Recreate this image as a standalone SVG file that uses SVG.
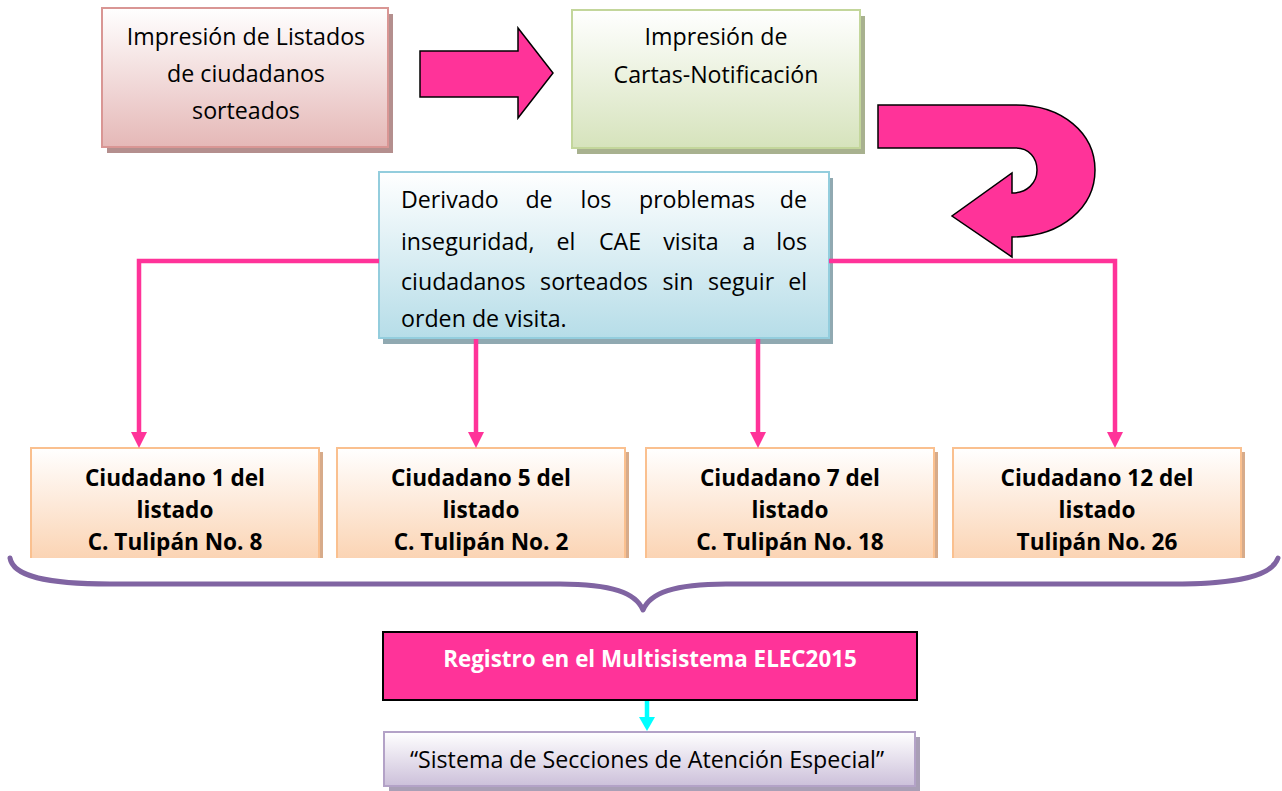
<svg xmlns="http://www.w3.org/2000/svg" width="1282" height="791" viewBox="0 0 1282 791">
<defs>
<linearGradient id="gPink" x1="0" y1="0" x2="0" y2="1"><stop offset="0" stop-color="#ffffff"/><stop offset="1" stop-color="#e5b8b7"/></linearGradient>
<linearGradient id="gGreen" x1="0" y1="0" x2="0" y2="1"><stop offset="0" stop-color="#ffffff"/><stop offset="1" stop-color="#d6e3bc"/></linearGradient>
<linearGradient id="gBlue" x1="0" y1="0" x2="0" y2="1"><stop offset="0" stop-color="#ffffff"/><stop offset="1" stop-color="#b6dde8"/></linearGradient>
<linearGradient id="gOrange" x1="0" y1="0" x2="0" y2="1"><stop offset="0" stop-color="#ffffff"/><stop offset="1" stop-color="#fbd4b4"/></linearGradient>
<linearGradient id="gPurple" x1="0" y1="0" x2="0" y2="1"><stop offset="0" stop-color="#ffffff"/><stop offset="1" stop-color="#ccc0da"/></linearGradient>
<marker id="mPink" viewBox="0 0 18 16" refX="0" refY="8" markerWidth="18" markerHeight="16" markerUnits="userSpaceOnUse" orient="auto"><path d="M0,0 L16,8 L0,16 z" fill="#ff3399"/></marker>
<marker id="mCyan" viewBox="0 0 14 16" refX="0" refY="8" markerWidth="14" markerHeight="16" markerUnits="userSpaceOnUse" orient="auto"><path d="M0,0 L14,8 L0,16 z" fill="#00ffff"/></marker>
<style>
text{font-family:"Open Sans","Noto Sans","Liberation Sans",sans-serif;fill:#000}
.r{font-size:23.2px}
.b{font-size:22.6px;font-weight:bold}
.c{text-anchor:middle}
.e{text-anchor:end}
.m{text-anchor:middle}
.w{fill:#ffffff;font-size:22.4px;font-weight:bold}
.link{fill:none;stroke:#ff3399;stroke-width:4.5}
.blk{fill:#ff3399;stroke:#000;stroke-width:1.5;stroke-linejoin:miter}
.tb{fill:url(#gOrange)}
.tbb{fill:none;stroke:#fac08f;stroke-width:2}
.tbs{fill:#d7ab8a}
</style>
</defs>
<rect width="1282" height="791" fill="#ffffff"/>

<g id="node-listados">
<rect x="107" y="14" width="286" height="139" fill="#b48f8e"/>
<rect x="102" y="8" width="286" height="139" fill="url(#gPink)" stroke="#d99694" stroke-width="2"/>
<text class="r c" x="246" y="45">Impresión de Listados</text>
<text class="r c" x="246" y="82">de ciudadanos</text>
<text class="r c" x="246" y="119">sorteados</text>
</g>

<g id="node-cartas">
<rect x="577" y="16" width="288" height="138" fill="#a8b18f"/>
<rect x="572" y="10" width="288" height="138" fill="url(#gGreen)" stroke="#c3d69b" stroke-width="2"/>
<text class="r c" x="716" y="45">Impresión de</text>
<text class="r c" x="716" y="83">Cartas-Notificación</text>
</g>

<g id="node-derivado">
<rect x="383" y="178" width="450" height="166" fill="#90a9b1"/>
<rect x="379" y="172" width="450" height="166" fill="url(#gBlue)" stroke="#93cddd" stroke-width="2"/>
<text class="r" y="208"><tspan x="401">Derivado</tspan><tspan class="m" x="539">de</tspan><tspan class="m" x="596">los</tspan><tspan class="m" x="697">problemas</tspan><tspan class="e" x="807">de</tspan></text>
<text class="r" y="250"><tspan x="401">inseguridad,</tspan><tspan class="m" x="566">el</tspan><tspan class="m" x="620">CAE</tspan><tspan class="m" x="691">visita</tspan><tspan class="m" x="749">a</tspan><tspan class="e" x="807">los</tspan></text>
<text class="r" y="290"><tspan x="401">ciudadanos</tspan><tspan class="m" x="594">sorteados</tspan><tspan class="m" x="678">sin</tspan><tspan class="m" x="741">seguir</tspan><tspan class="e" x="807">el</tspan></text>
<text class="r" x="401" y="327">orden de visita.</text>
</g>

<g id="node-c1">
<rect class="tbs" x="319" y="452" width="4" height="106"/>
<rect class="tb" x="31" y="448" width="288" height="110"/>
<path class="tbb" d="M31,558 V448 H319 V558"/>
<text class="b c" x="175" y="486">Ciudadano 1 del</text>
<text class="b c" x="175" y="518">listado</text>
<text class="b c" x="175" y="550">C. Tulipán No. 8</text>
</g>

<g id="node-c5">
<rect class="tbs" x="625" y="452" width="4" height="106"/>
<rect class="tb" x="337" y="448" width="288" height="110"/>
<path class="tbb" d="M337,558 V448 H625 V558"/>
<text class="b c" x="481" y="486">Ciudadano 5 del</text>
<text class="b c" x="481" y="518">listado</text>
<text class="b c" x="481" y="550">C. Tulipán No. 2</text>
</g>

<g id="node-c7">
<rect class="tbs" x="934" y="452" width="4" height="106"/>
<rect class="tb" x="646" y="448" width="288" height="110"/>
<path class="tbb" d="M646,558 V448 H934 V558"/>
<text class="b c" x="790" y="486">Ciudadano 7 del</text>
<text class="b c" x="790" y="518">listado</text>
<text class="b c" x="790" y="550">C. Tulipán No. 18</text>
</g>

<g id="node-c12">
<rect class="tbs" x="1241" y="452" width="4" height="106"/>
<rect class="tb" x="953" y="448" width="288" height="110"/>
<path class="tbb" d="M953,558 V448 H1241 V558"/>
<text class="b c" x="1097" y="486">Ciudadano 12 del</text>
<text class="b c" x="1097" y="518">listado</text>
<text class="b c" x="1097" y="550">Tulipán No. 26</text>
</g>

<g id="brace">
<path d="M10,558 C13,576 45,584 110,584 L560,584 C612,584 636,593 643,610 C650,593 674,584 726,584 L1172,584 C1238,584 1272,576 1278,558" fill="none" stroke="#8064a2" stroke-width="5" stroke-linecap="round" stroke-linejoin="round"/>
</g>

<g id="node-registro">
<rect x="383" y="632" width="534" height="68" fill="#ff3399" stroke="#000" stroke-width="2"/>
<text class="w c" x="650" y="667">Registro en el Multisistema ELEC2015</text>
</g>

<g id="node-sistema">
<rect x="389" y="737" width="531" height="54" fill="#a99fb6"/>
<rect x="384" y="732" width="531" height="54" fill="url(#gPurple)" stroke="#b3a2c7" stroke-width="2"/>
<text class="r c" x="647" y="768">“Sistema de Secciones de Atención Especial”</text>
</g>

<g id="connectors">
<path class="blk" d="M420,51 L518,51 L518,28 L553,73 L518,118 L518,97 L420,97 Z"/>
<path class="blk" d="M878,105 L1016,105 C1062,105 1095,133 1095,170 C1095,207 1062,237 1012,237 L1012,257 L952,216 L1012,173 L1012,193 C1027,193 1037,183 1037,170 C1037,158 1029,148 1016,148 L878,148 Z"/>
<path class="link" d="M379,261 H139 V432" marker-end="url(#mPink)"/>
<path class="link" d="M476,339 V432" marker-end="url(#mPink)"/>
<path class="link" d="M758,339 V432" marker-end="url(#mPink)"/>
<path class="link" d="M829,261 H1115 V432" marker-end="url(#mPink)"/>
<path d="M647,701 V717" fill="none" stroke="#00ffff" stroke-width="4.5" marker-end="url(#mCyan)"/>
</g>
</svg>
